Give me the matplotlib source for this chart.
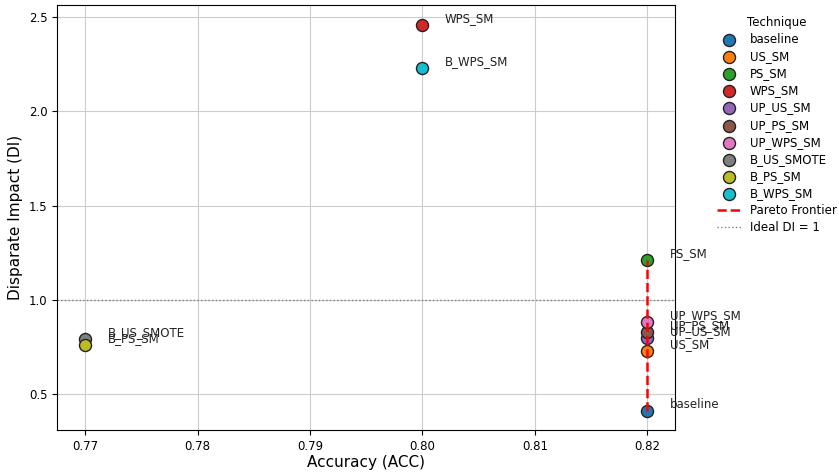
import matplotlib
matplotlib.use('Agg')
import matplotlib.pyplot as plt

# Données
techniques = ['baseline', 'US_SM', 'PS_SM', 'WPS_SM', 'UP_US_SM', 'UP_PS_SM',
              'UP_WPS_SM', 'B_US_SMOTE', 'B_PS_SM', 'B_WPS_SM']
acc = [0.82, 0.82, 0.82, 0.80, 0.82, 0.82, 0.82, 0.77, 0.77, 0.80]
di = [0.41, 0.73, 1.21, 2.46, 0.80, 0.83, 0.88, 0.79, 0.76, 2.23]
colors = ['#1f77b4', '#ff7f0e', '#2ca02c', '#d62728', '#9467bd', '#8c564b',
          '#e377c2', '#7f7f7f', '#bcbd22', '#17becf']

# Frontière de Pareto
pareto_acc = [0.82, 0.82, 0.82, 0.82, 0.82, 0.82]
pareto_di = [0.41, 0.73, 0.80, 0.83, 0.88, 1.21]

fig = plt.figure(figsize=(8.39, 4.73), dpi=100)
ax = fig.add_axes([0.068, 0.09, 0.737, 0.899])

for name, x, y, c in zip(techniques, acc, di, colors):
    ax.scatter(x, y, s=75, color=c, edgecolor='#222222', linewidth=1.0,
               label=name, zorder=3)
    ax.text(x + 0.002, y, name, fontsize=8.5, va='bottom', color='#222222')

ax.plot(pareto_acc, pareto_di, 'r--', linewidth=1.8, label='Pareto Frontier', zorder=4)
ax.axhline(1.0, color='gray', linestyle=':', linewidth=1, label='Ideal DI = 1')

ax.set_xlabel('Accuracy (ACC)', fontsize=11, labelpad=1)
ax.set_ylabel('Disparate Impact (DI)', fontsize=11)
ax.tick_params(labelsize=8.5)
ax.grid(True, color='#cccccc')
ax.set_axisbelow(True)

ax.legend(title='Technique', loc='upper left', bbox_to_anchor=(1.05, 1.0),
          frameon=False, fontsize=8.5, title_fontsize=8.5,
          labelspacing=0.35, handletextpad=0.8)

fig.savefig('out.png', dpi=100)
